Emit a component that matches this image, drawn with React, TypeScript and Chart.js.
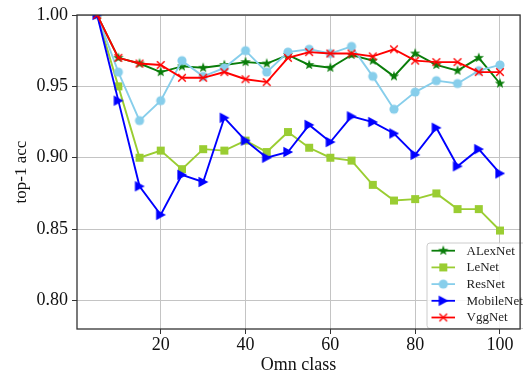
import React, { useEffect, useRef } from 'react';
import { Chart, registerables } from 'chart.js';

Chart.register(...registerables);

const classes = [5, 10, 15, 20, 25, 30, 35, 40, 45, 50, 55, 60, 65, 70, 75, 80, 85, 90, 95, 100];
const alexNet = [1.0, 0.970, 0.966, 0.960, 0.964, 0.963, 0.965, 0.967, 0.966, 0.972, 0.965, 0.963, 0.972, 0.968, 0.957, 0.973, 0.965, 0.961, 0.970, 0.952];
const leNet = [1.0, 0.950, 0.900, 0.905, 0.892, 0.906, 0.905, 0.912, 0.904, 0.918, 0.907, 0.900, 0.898, 0.881, 0.870, 0.871, 0.875, 0.864, 0.864, 0.849];
const resNet = [1.0, 0.960, 0.926, 0.940, 0.968, 0.957, 0.963, 0.975, 0.960, 0.974, 0.976, 0.973, 0.978, 0.957, 0.934, 0.946, 0.954, 0.952, 0.961, 0.965];
const mobileNet = [1.0, 0.940, 0.880, 0.860, 0.888, 0.883, 0.928, 0.912, 0.900, 0.904, 0.923, 0.911, 0.929, 0.925, 0.917, 0.902, 0.921, 0.894, 0.906, 0.889];
const vggNet = [1.0, 0.970, 0.966, 0.965, 0.956, 0.956, 0.960, 0.955, 0.953, 0.970, 0.974, 0.973, 0.973, 0.971, 0.976, 0.968, 0.967, 0.967, 0.960, 0.960];

const seriesNames = ['ALexNet', 'LeNet', 'ResNet', 'MobileNet', 'VggNet'];
const seriesValues = [alexNet, leNet, resNet, mobileNet, vggNet];
const seriesColors = ['#0a7d0a', '#9acd32', '#87ceeb', '#0000ff', '#ff0000'];
const seriesMarkers = ['star', 'square', 'circle', 'triR', 'x'];

const xTicks = [20, 40, 60, 80, 100];
const yTicks = [0.80, 0.85, 0.90, 0.95, 1.00];

const FONT = '"Liberation Serif", "Times New Roman", serif';

function makeMarker(shape: string, color: string): HTMLCanvasElement {
  const c = document.createElement('canvas');
  const s = 14;
  c.width = s;
  c.height = s;
  const ctx = c.getContext('2d') as CanvasRenderingContext2D;
  ctx.translate(s / 2, s / 2);
  ctx.fillStyle = color;
  ctx.strokeStyle = color;
  ctx.lineWidth = 1;
  ctx.beginPath();
  if (shape === 'star') {
    const ro = 5.4, ri = 2.2;
    for (let i = 0; i < 10; i++) {
      const r = i % 2 === 0 ? ro : ri;
      const a = -Math.PI / 2 + (i * Math.PI) / 5;
      const px = Math.cos(a) * r, py = Math.sin(a) * r;
      if (i === 0) ctx.moveTo(px, py); else ctx.lineTo(px, py);
    }
    ctx.closePath();
    ctx.fill();
  } else if (shape === 'square') {
    ctx.rect(-4, -4, 8, 8);
    ctx.fill();
  } else if (shape === 'circle') {
    ctx.arc(0, 0, 4.6, 0, Math.PI * 2);
    ctx.fill();
  } else if (shape === 'triR') {
    ctx.moveTo(5.2, 0);
    ctx.lineTo(-4.6, -5.2);
    ctx.lineTo(-4.6, 5.2);
    ctx.closePath();
    ctx.fill();
  } else {
    ctx.lineWidth = 1.4;
    ctx.moveTo(-3.8, -3.8);
    ctx.lineTo(3.8, 3.8);
    ctx.moveTo(-3.8, 3.8);
    ctx.lineTo(3.8, -3.8);
    ctx.stroke();
  }
  return c;
}

export default function App() {
  const ref = useRef<HTMLCanvasElement | null>(null);

  useEffect(() => {
    if (!ref.current) return;
    const markers = seriesMarkers.map((m, i) => makeMarker(m, seriesColors[i]));

    const framePlugin = {
      id: 'frameLegend',
      afterDraw(chart: any) {
        const { ctx, chartArea } = chart;
        const { left, top, right, bottom } = chartArea;
        ctx.save();
        // legend
        const lx = 427, ly = 243, lw = 120, lh = bottom - ly - 0.5;
        ctx.beginPath();
        const r = 3;
        ctx.moveTo(lx + r, ly);
        ctx.lineTo(lx + lw, ly);
        ctx.lineTo(lx + lw, ly + lh);
        ctx.lineTo(lx + r, ly + lh);
        ctx.arcTo(lx, ly + lh, lx, ly + lh - r, r);
        ctx.lineTo(lx, ly + r);
        ctx.arcTo(lx, ly, lx + r, ly, r);
        ctx.closePath();
        ctx.fillStyle = 'rgba(255,255,255,0.85)';
        ctx.fill();
        ctx.strokeStyle = '#cccccc';
        ctx.lineWidth = 1;
        ctx.stroke();
        ctx.font = '13px ' + FONT;
        ctx.textBaseline = 'middle';
        ctx.textAlign = 'left';
        seriesNames.forEach((name, i) => {
          const y = 250.7 + i * 16.7;
          ctx.beginPath();
          ctx.strokeStyle = seriesColors[i];
          ctx.lineWidth = 1.8;
          ctx.moveTo(431.5, y);
          ctx.lineTo(455, y);
          ctx.stroke();
          const m = markers[i];
          ctx.drawImage(m, 443.3 - m.width / 2, y - m.height / 2);
          ctx.fillStyle = '#222';
          ctx.fillText(name, 466.5, y + 0.5);
        });
        // frame
        ctx.strokeStyle = '#333';
        ctx.lineWidth = 1.3;
        ctx.strokeRect(left, top, right - left, bottom - top);
        ctx.restore();
      },
    };

    const datasets = seriesNames.map((name, i) => ({
      label: name,
      data: classes.map((x, j) => ({ x, y: seriesValues[i][j] })),
      borderColor: seriesColors[i],
      backgroundColor: seriesColors[i],
      borderWidth: 1.9,
      pointStyle: markers[i],
      pointRadius: 5,
      tension: 0,
      clip: 0,
      order: seriesNames.length - 1 - i,
    }));

    const chart = new Chart(ref.current, {
      type: 'line',
      data: { datasets },
      plugins: [framePlugin],
      options: {
        animation: false,
        responsive: false,
        maintainAspectRatio: false,
        layout: { padding: { top: 15, right: 0, left: 0, bottom: 0 } },
        plugins: { legend: { display: false }, tooltip: { enabled: false } },
        font: { family: FONT },
        scales: {
          x: {
            type: 'linear',
            min: 0.25,
            max: 104.75,
            afterBuildTicks: (s: any) => {
              s.ticks = xTicks.map((v) => ({ value: v }));
            },
            afterFit: (s: any) => {
              s.height = 47;
            },
            grid: { color: '#c4c4c4', lineWidth: 1, tickLength: 5, tickColor: '#333', drawTicks: true },
            border: { display: false },
            ticks: {
              color: '#111',
              font: { size: 18, family: FONT },
              padding: 0,
              maxRotation: 0,
              autoSkip: false,
              callback: (v: any) => String(v),
            },
            title: { display: true, text: 'Omn class', color: '#111', font: { size: 18, family: FONT }, padding: { top: 0, bottom: 0 } },
          },
          y: {
            type: 'linear',
            min: 0.78,
            max: 1.0,
            afterBuildTicks: (s: any) => {
              s.ticks = yTicks.map((v) => ({ value: v }));
            },
            afterFit: (s: any) => {
              s.width = 77;
            },
            grid: { color: '#c4c4c4', lineWidth: 1, tickLength: 5, tickColor: '#333', drawTicks: true },
            border: { display: false },
            ticks: {
              color: '#111',
              font: { size: 18, family: FONT },
              padding: 4,
              autoSkip: false,
              callback: (v: any) => Number(v).toFixed(2),
            },
            title: { display: true, text: 'top-1 acc', color: '#111', font: { size: 17, family: FONT }, padding: { top: 11, bottom: 0 } },
          },
        },
      },
    } as any);
    return () => chart.destroy();
  }, []);

  return (
    <div style={{ position: 'fixed', left: 0, top: 0, width: 527, height: 376, background: '#fff' }}>
      <canvas ref={ref} width={527} height={376} style={{ width: 527, height: 376, display: 'block' }} />
    </div>
  );
}
